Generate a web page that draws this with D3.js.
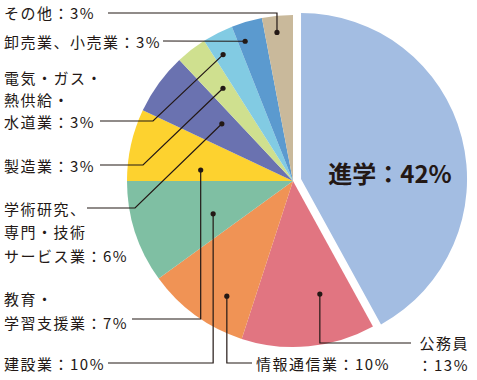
<!DOCTYPE html>
<html><head><meta charset="utf-8">
<script src="https://cdn.jsdelivr.net/npm/d3@7"></script>
<style>html,body{margin:0;padding:0;background:#fff;}svg{display:block;}</style>
</head><body>
<svg id="c" width="477" height="380"></svg>
<script>
const categories = ["進学","公務員","情報通信業","建設業","教育・学習支援業","学術研究、専門・技術サービス業","製造業","電気・ガス・熱供給・水道業","卸売業、小売業","その他"];
const values = [42,13,10,10,7,6,3,3,3,3];
const colors = ["#a3bde2","#e17581","#f09355","#7fbfa3","#fdd22f","#6a72b0","#cfe08f","#82cbe3","#5b9acf","#c9b99b"];
const labelLines = [
  ["進学：42%"],
  ["公務員","：13%"],
  ["情報通信業：10%"],
  ["建設業：10%"],
  ["教育・","学習支援業：7%"],
  ["学術研究、","専門・技術","サービス業：6%"],
  ["製造業：3%"],
  ["電気・ガス・","熱供給・","水道業：3%"],
  ["卸売業、小売業：3%"],
  ["その他：3%"]
];

// layout (positions only)
const W = 477, H = 380, cx = 293, cy = 181, R = 166, explode = 8.3;
const layout = [
  {x:390, ys:[172], anchor:"middle", big:true},
  {x:469, ys:[342,364], anchor:"end", start:[411,343], elbow:null, frac:0.33, rr:0.70},
  {x:256, ys:[363], anchor:"start", start:[252,363], elbow:null, frac:0.33, rr:0.80},
  {x:4, ys:[363], anchor:"start", start:[108,363], elbow:null, frac:0.38, rr:0.52},
  {x:4, ys:[298,322], anchor:"start", start:[132,319], elbow:null, frac:0.27, rr:0.56},
  {x:4, ys:[208,231.5,255], anchor:"start", start:[87,208], elbow:135, frac:0.63, rr:0.55},
  {x:4, ys:[165], anchor:"start", start:[100,165], elbow:143, frac:0.57, rr:0.70},
  {x:4, ys:[77,99,121], anchor:"start", start:[100,121], elbow:153, frac:0.32, rr:0.87},
  {x:4, ys:[41], anchor:"start", start:[163,41], elbow:"dot", frac:0.25, rr:0.89},
  {x:4, ys:[12], anchor:"start", start:[108,13], elbow:null, frac:0.43, rr:0.90}
];

const svg = d3.select("#c");
const data = categories.map((c,i)=>({name:c, value:values[i], color:colors[i], i}));
const pie = d3.pie().value(d=>d.value).sort(null).startAngle(0).endAngle(2*Math.PI);
const arcs = pie(data);
const arc = d3.arc().innerRadius(0).outerRadius(R);

const g = svg.append("g").attr("transform",`translate(${cx},${cy})`);
g.selectAll("path").data(arcs).join("path")
  .attr("d", arc)
  .attr("fill", d=>d.data.color)
  .attr("transform", d=>{
    if (d.index !== 0) return null;
    const m = (d.startAngle+d.endAngle)/2;
    return `translate(${explode*Math.sin(m)},${-explode*Math.cos(m)})`;
  });

const ink = "#231815";
const font = "'Noto Sans CJK JP','Noto Sans',sans-serif";

arcs.forEach((d,i)=>{
  const L = layout[i];
  const t = svg.append("g");
  labelLines[i].forEach((ln,j)=>{
    t.append("text")
      .attr("x", L.x).attr("y", L.ys[j])
      .attr("text-anchor", L.anchor)
      .attr("dominant-baseline","central")
      .attr("font-family", font)
      .attr("font-size", L.big ? 24 : 15)
      .attr("letter-spacing", L.big ? 0 : 1.5)
      .attr("font-weight", L.big ? 700 : 400)
      .attr("fill", ink)
      .text(ln);
  });
  if (L.frac === undefined) return;
  const a = d.startAngle + L.frac*(d.endAngle-d.startAngle);
  const r = L.rr*R;
  const px = cx + r*Math.sin(a), py = cy - r*Math.cos(a);
  let path;
  if (L.elbow === null) {
    path = `M${L.start[0]},${L.start[1]}H${px}V${py}`;
  } else if (L.elbow === "dot") {
    path = `M${L.start[0]},${L.start[1]}L${px},${py}`;
  } else {
    path = `M${L.start[0]},${L.start[1]}H${L.elbow}L${px},${py}`;
  }
  svg.append("path").attr("d", path).attr("fill","none").attr("stroke", ink).attr("stroke-width",1.2);
  svg.append("circle").attr("cx",px).attr("cy",py).attr("r",2.6).attr("fill", ink);
});
</script>
</body></html>
